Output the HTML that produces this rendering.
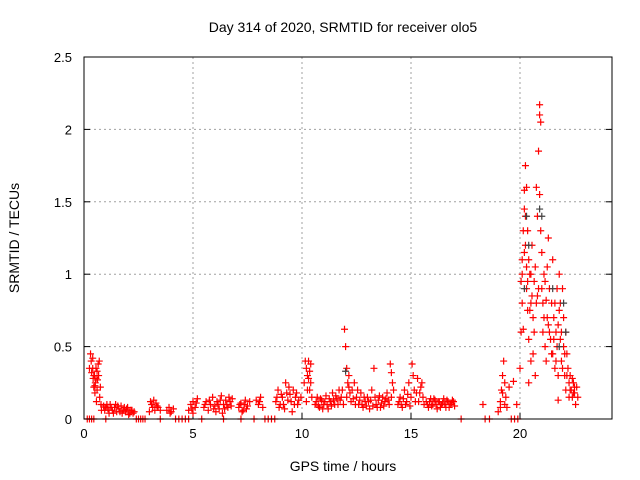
<!DOCTYPE html>
<html><head><meta charset="utf-8"><style>
body{margin:0;background:#fff;}
svg{display:block;font-family:"Liberation Sans",sans-serif;}
</style></head><body>
<svg id="chart" width="640" height="480">
<text x="343" y="32" text-anchor="middle" font-size="14">Day 314 of 2020, SRMTID for receiver olo5</text>
<text x="343" y="471" text-anchor="middle" font-size="14">GPS time / hours</text>
<text transform="translate(19,238) rotate(-90)" text-anchor="middle" font-size="14">SRMTID / TECUs</text>
<g id="grid"></g><g id="marks"></g>
<rect x="84" y="57" width="528" height="362" fill="none" stroke="#000" stroke-width="1"/>
</svg>
<script>
const xTicks=[0,5,10,15,20];
const yTicks=[0,0.5,1,1.5,2,2.5];
const yTickLabels=["0","0.5","1","1.5","2","2.5"];
const srmtid=[[0.25,0.35],[0.3,0.45],[0.33,0.4],[0.35,0.32],[0.4,0.35],[0.42,0.28],[0.45,0.22],[0.48,0.3],[0.5,0.18],[0.52,0.25],[0.55,0.35],[0.57,0.12],[0.6,0.2],[0.62,0.27],[0.65,0.38],[0.67,0.3],[0.7,0.4],[0.72,0.15],[0.75,0.22],[0.78,0.1],[0.8,0.06],
[0.9,0.09],[1.0,0.08],[1.1,0.07],[1.2,0.1],[1.3,0.06],[1.4,0.08],[1.5,0.05],[1.6,0.07],[1.7,0.09],[1.8,0.06],[1.9,0.05],[2.0,0.08],[2.1,0.04],[2.2,0.06],[2.3,0.05],[1.15,0.04],[1.45,0.1],[1.75,0.04],[2.05,0.03],
[0.95,0.06],[1.05,0.1],[1.25,0.08],[1.35,0.04],[1.55,0.09],[1.65,0.05],[1.85,0.08],[1.95,0.07],[2.15,0.06],[2.25,0.04],[0.45,0.3],[0.55,0.28],[0.6,0.33],[0.5,0.23],[0.4,0.42],
[3.0,0.05],[3.1,0.1],[3.2,0.13],[3.3,0.11],[3.4,0.08],[3.5,0.06],[3.15,0.08],[3.25,0.06],[3.05,0.12],[3.35,0.09],
[3.8,0.06],[3.9,0.08],[4.0,0.05],[4.1,0.07],[3.95,0.04],
[4.8,0.06],[4.9,0.1],[5.0,0.12],[5.1,0.08],[5.2,0.14],[5.0,0.04],[4.95,0.07],[5.15,0.11],
[5.5,0.08],[5.6,0.12],[5.7,0.06],[5.8,0.1],[5.9,0.15],[6.0,0.09],[6.1,0.12],[6.2,0.07],[6.3,0.16],[6.4,0.1],[6.5,0.13],[6.6,0.08],[6.7,0.12],[6.8,0.14],[6.05,0.05],[6.35,0.04],
[5.55,0.1],[5.75,0.13],[5.95,0.07],[6.15,0.1],[6.25,0.13],[6.45,0.07],[6.55,0.1],[6.65,0.15],[6.75,0.09],
[7.1,0.08],[7.2,0.11],[7.3,0.06],[7.4,0.13],[7.5,0.09],[7.6,0.12],[7.25,0.05],[7.15,0.1],[7.35,0.1],[7.45,0.07],
[7.9,0.13],[8.0,0.1],[8.1,0.15],[8.2,0.08],[8.05,0.12],
[8.8,0.12],[8.9,0.2],[9.0,0.1],[9.1,0.15],[9.2,0.07],[9.3,0.18],[9.4,0.22],[9.5,0.12],[9.6,0.2],[9.7,0.15],[9.8,0.1],[9.25,0.25],[9.55,0.05],
[8.85,0.15],[8.95,0.08],[9.05,0.17],[9.15,0.1],[9.35,0.13],[9.45,0.17],[9.65,0.1],[9.75,0.18],[9.85,0.13],[9.95,0.15],
[10.1,0.25],[10.15,0.4],[10.2,0.35],[10.25,0.3],[10.3,0.4],[10.35,0.2],[10.4,0.38],[10.45,0.15],[10.2,0.12],[10.25,0.2],[10.3,0.28],[10.4,0.25],[10.35,0.33],
[10.6,0.1],[10.7,0.15],[10.8,0.08],[10.9,0.13],[11.0,0.1],[11.1,0.16],[11.2,0.07],[11.3,0.12],[11.4,0.18],[11.5,0.1],[11.6,0.14],[11.7,0.2],[11.8,0.15],[11.9,0.1],
[10.65,0.12],[10.75,0.09],[10.85,0.14],[10.95,0.07],[11.05,0.12],[11.15,0.1],[11.25,0.14],[11.35,0.09],[11.45,0.13],[11.55,0.16],[11.65,0.1],[11.75,0.13],[11.85,0.2],
[11.95,0.62],[12.0,0.5],[12.05,0.35],[12.1,0.25],[12.15,0.3],[12.2,0.18],[12.25,0.12],[12.05,0.15],[12.15,0.22],
[12.3,0.2],[12.4,0.25],[12.5,0.15],[12.6,0.1],[12.7,0.18],[12.8,0.08],[12.9,0.12],[13.0,0.15],[13.1,0.07],[13.2,0.2],[13.3,0.35],[13.4,0.1],[13.5,0.13],[13.6,0.08],[13.7,0.15],[13.8,0.12],[13.9,0.18],[14.0,0.1],
[12.35,0.14],[12.45,0.1],[12.55,0.2],[12.65,0.13],[12.75,0.1],[12.85,0.15],[12.95,0.09],[13.05,0.12],[13.15,0.13],[13.25,0.09],[13.35,0.15],[13.45,0.08],[13.55,0.16],[13.65,0.11],[13.75,0.09],[13.85,0.14],[13.95,0.13],
[14.05,0.38],[14.1,0.32],[14.15,0.25],[14.2,0.2],[14.1,0.15],
[14.4,0.1],[14.5,0.15],[14.6,0.08],[14.7,0.2],[14.8,0.12],[14.9,0.25],[15.0,0.15],[15.05,0.38],[15.1,0.3],[15.15,0.2],[15.2,0.12],[15.3,0.28],[15.4,0.18],[15.5,0.25],[15.6,0.1],
[14.45,0.12],[14.55,0.1],[14.65,0.14],[14.75,0.1],[14.85,0.17],[14.95,0.09],[15.25,0.18],[15.35,0.12],[15.45,0.22],[15.55,0.15],
[15.7,0.12],[15.8,0.08],[15.9,0.14],[16.0,0.1],[16.1,0.13],[16.2,0.07],[16.3,0.12],[16.4,0.1],[16.5,0.14],[16.6,0.08],[16.7,0.12],[16.8,0.1],[16.9,0.13],[17.0,0.09],
[15.75,0.1],[15.85,0.12],[15.95,0.09],[16.05,0.14],[16.15,0.1],[16.25,0.12],[16.35,0.08],[16.45,0.11],[16.55,0.1],[16.65,0.13],[16.75,0.08],[16.85,0.11],[16.95,0.12],
[18.3,0.1],
[19.0,0.05],[19.1,0.12],[19.15,0.2],[19.2,0.3],[19.25,0.4],[19.3,0.25],[19.35,0.15],[19.4,0.08],[19.5,0.22],[19.7,0.26],[19.85,0.1],[19.2,0.18],[19.3,0.1],[19.1,0.08],
[20.0,0.35],[20.05,0.6],[20.05,0.95],[20.1,1.0],[20.1,0.8],[20.15,1.3],[20.15,0.62],[20.2,1.58],[20.2,1.45],[20.25,1.75],[20.25,1.2],[20.3,1.6],[20.3,0.9],[20.35,1.3],[20.35,0.75],[20.4,1.1],[20.4,0.55],[20.45,1.0],[20.5,0.8],[20.5,0.4],[20.55,1.2],[20.6,0.7],[20.6,0.45],[20.65,0.95],[20.7,1.05],[20.7,0.3],[20.75,1.6],[20.8,1.4],[20.8,0.85],[20.85,1.85],[20.9,2.1],[20.9,2.17],[20.95,2.05],[20.9,1.55],[20.95,1.3],[21.0,1.15],[21.0,0.9],[21.05,0.6],[21.1,1.0],[21.1,0.7],[21.15,0.5],[21.2,0.82],[21.2,0.4],[21.25,1.05],[21.3,1.25],[21.3,0.65],[21.35,0.9],[21.4,0.55],[21.45,0.8],[21.5,1.1],[21.5,0.45],[21.55,0.7],[21.6,0.35],[21.65,0.6],[21.7,0.9],[21.7,0.5],[21.75,0.3],[21.8,1.0],[21.8,0.75],[21.85,0.55],[21.9,0.4],[21.95,0.9],[22.0,0.7],[22.0,0.5],[22.05,0.3],[22.1,0.6],[22.1,0.2],[22.15,0.45],[22.2,0.35],[22.25,0.25],[22.3,0.3],[22.35,0.2],[22.4,0.15],[22.45,0.25],[22.5,0.18],[22.55,0.1],[22.6,0.22],[22.65,0.15],[21.75,0.13],[20.4,0.25],
[20.2,1.15],[20.3,1.05],[20.35,0.95],[20.45,0.75],[20.55,0.85],[20.65,0.6],[20.75,0.8],[20.85,0.9],[21.05,0.8],[21.15,0.95],[21.25,0.7],[21.35,0.6],[21.45,0.45],[21.55,0.55],[21.6,0.8],[21.65,0.4],[21.75,0.65],[21.85,0.8],[21.9,0.6],[21.95,0.35],[22.05,0.45],[22.15,0.3],[22.25,0.15],[22.3,0.2],[22.45,0.18],[22.5,0.22],[22.4,0.28],[20.1,1.1],[20.25,1.4],[20.5,1.0]];
const zeroHours=[0.15,0.25,0.35,0.45,1.0,2.4,2.5,2.6,2.7,2.8,3.5,4.2,4.35,4.5,4.65,4.8,5.4,6.4,7.2,7.8,8.3,8.45,8.6,8.75,17.3,18.4,18.6,19.6,19.75,19.9];
const srmtidAlt=[[20.3,1.4],[20.4,1.2],[20.9,1.45],[21.0,1.4],[21.5,0.9],[22.0,0.8],[22.1,0.6],[12.0,0.33],[20.2,0.9],[21.8,0.5]];
const NS="http://www.w3.org/2000/svg";
const X0=84,X1=612,XMAX=24.22,Y0=419,Y1=57,YMAX=2.5;
function xs(h){return X0+h/XMAX*(X1-X0);}
function ys(v){return Y0-v/YMAX*(Y0-Y1);}
const grid=document.getElementById('grid'),marks=document.getElementById('marks');
function mk(tag,at,parent){const e=document.createElementNS(NS,tag);for(const k in at)e.setAttribute(k,at[k]);parent.appendChild(e);return e;}
xTicks.forEach(t=>{const x=xs(t);
 if(t>0){const g=mk('line',{x1:x,x2:x,y1:Y1,y2:Y0,stroke:'#a0a0a0','stroke-dasharray':'2,3'},grid);
 
 }
 const tk=mk('line',{x1:x,x2:x,y1:Y0,y2:Y0-6,stroke:'#000'},grid);
 
 
 const tx=mk('text',{x:x,y:Y0+19,'text-anchor':'middle','font-size':13},grid);tx.textContent=String(t);
 
 });
yTicks.forEach((t,i)=>{const y=ys(t);
 if(t>0&&t<YMAX){const g=mk('line',{x1:X0,x2:X1,y1:y,y2:y,stroke:'#a0a0a0','stroke-dasharray':'2,3'},grid);
 
 }
 const tk=mk('line',{x1:X0,x2:X0+6,y1:y,y2:y,stroke:'#000'},grid);
 
 
 const tk2=mk('line',{x1:X1,x2:X1-6,y1:y,y2:y,stroke:'#000'},grid);
 
 
 const tx=mk('text',{x:X0-12,y:y+5,'text-anchor':'end','font-size':13},grid);tx.textContent=yTickLabels[i];
 
 });
function plus(h,v,col){const x=xs(h),y=ys(v);
 const p=mk('path',{d:`M${x-3.5},${y}H${x+3.5}M${x},${y-3.5}V${y+3.5}`,stroke:col,'stroke-width':1.2,fill:'none'},marks);
 
 }
srmtid.forEach(d=>plus(d[0],d[1],'#ff0000'));
zeroHours.forEach(h=>plus(h,0,'#ff0000'));
srmtidAlt.forEach(d=>plus(d[0],d[1],'#404040'));
</script>
</body></html>
